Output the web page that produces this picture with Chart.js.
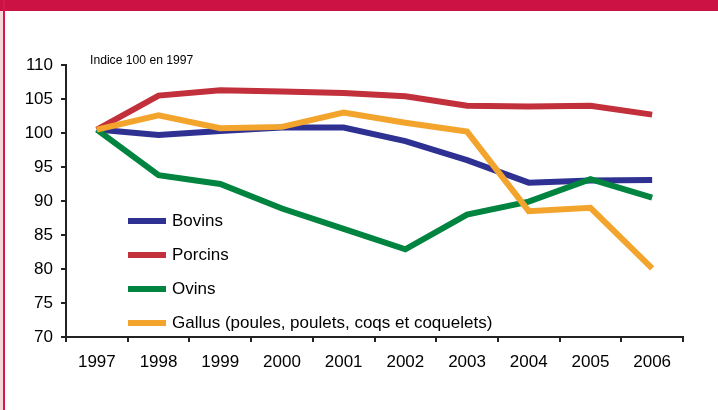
<!DOCTYPE html>
<html>
<head>
<meta charset="utf-8">
<script src="https://cdn.jsdelivr.net/npm/chart.js@4.4.1/dist/chart.umd.min.js"></script>
<style>
  html, body { margin: 0; padding: 0; background: #fff; }
  #wrap { position: relative; width: 718px; height: 410px; overflow: hidden; }
  #band { position: absolute; left: 0; top: 0; width: 718px; height: 11px; background: #cc1244; }
  #edge { position: absolute; left: 0; top: 11px; width: 3px; height: 399px; background: #f5d9da; }
  #rule { position: absolute; left: 3px; top: 0; width: 2px; height: 410px; background: #d8174e; }
  canvas { position: absolute; left: 0; top: 0; }
</style>
</head>
<body>
<div id="wrap">
  <canvas id="myChart" width="718" height="410"></canvas>
  <div id="band"></div>
  <div id="edge"></div>
  <div id="rule"></div>
</div>
<script>
const years = ["1997", "1998", "1999", "2000", "2001", "2002", "2003", "2004", "2005", "2006"];
const bovins = [100.5, 99.7, 100.3, 100.8, 100.8, 98.8, 96.0, 92.7, 93.0, 93.1];
const porcins = [100.5, 105.5, 106.3, 106.1, 105.9, 105.4, 104.0, 103.9, 104.0, 102.7];
const ovins = [100.5, 93.8, 92.5, 88.9, 85.9, 82.9, 88.0, 89.9, 93.2, 90.5];
const gallus = [100.5, 102.6, 100.7, 100.9, 103.0, 101.5, 100.2, 88.5, 89.0, 80.1];

const seriesNames = ["Bovins", "Porcins", "Ovins", "Gallus (poules, poulets, coqs et coquelets)"];
const lineColors = ["#2e3192", "#c1303b", "#00843f", "#f3a42c"];
const note = "Indice 100 en 1997";

const FONT = "'Liberation Sans', Arial, sans-serif";

// legend + note drawn inside the plot, like the original
const insideLegend = {
  id: "insideLegend",
  afterDraw(chart) {
    const ctx = chart.ctx;
    ctx.save();
    ctx.font = "17px " + FONT;
    ctx.textBaseline = "middle";
    ctx.fillStyle = "#000";
    chart.data.datasets.forEach(function (ds, i) {
      const y = 221 + i * 34;
      ctx.fillStyle = ds.borderColor;
      ctx.fillRect(128, y - 3, 38, 6);
      ctx.fillStyle = "#000";
      ctx.fillText(ds.label, 172, y);
    });
    ctx.translate(90, 64);
    ctx.scale(0.9, 1);
    ctx.font = "13.5px " + FONT;
    ctx.textBaseline = "alphabetic";
    ctx.fillText(note, 0, 0);
    ctx.restore();
  }
};

const allSeries = [bovins, porcins, ovins, gallus];

new Chart("myChart", {
  type: "line",
  data: {
    labels: years,
    datasets: allSeries.map(function (vals, i) {
      return {
        label: seriesNames[i],
        data: vals,
        borderColor: lineColors[i],
        backgroundColor: lineColors[i],
        borderWidth: 6,
        pointRadius: 0,
        tension: 0,
        borderCapStyle: "butt",
        borderJoinStyle: "miter",
        order: 3 - i
      };
    })
  },
  options: {
    responsive: false,
    animation: false,
    layout: { padding: { left: 0, top: 65, right: 35, bottom: 0 } },
    plugins: {
      legend: { display: false },
      tooltip: { enabled: false },
      title: { display: false }
    },
    scales: {
      x: {
        offset: true,
        grid: { offset: true, drawOnChartArea: false, tickLength: 5, color: "#222", lineWidth: 2 },
        border: { color: "#222", width: 2 },
        ticks: { color: "#000", font: { family: FONT, size: 17 }, padding: 10, maxRotation: 0 },
        afterFit: function (scale) { scale.height = 73; }
      },
      y: {
        min: 70,
        max: 110,
        ticks: { stepSize: 5, color: "#000", font: { family: FONT, size: 17 }, padding: 8 },
        grid: { drawOnChartArea: false, tickLength: 5, color: "#222", lineWidth: 2 },
        border: { color: "#222", width: 2 },
        afterFit: function (scale) { scale.width = 66; }
      }
    }
  },
  plugins: [insideLegend]
});
</script>
</body>
</html>
